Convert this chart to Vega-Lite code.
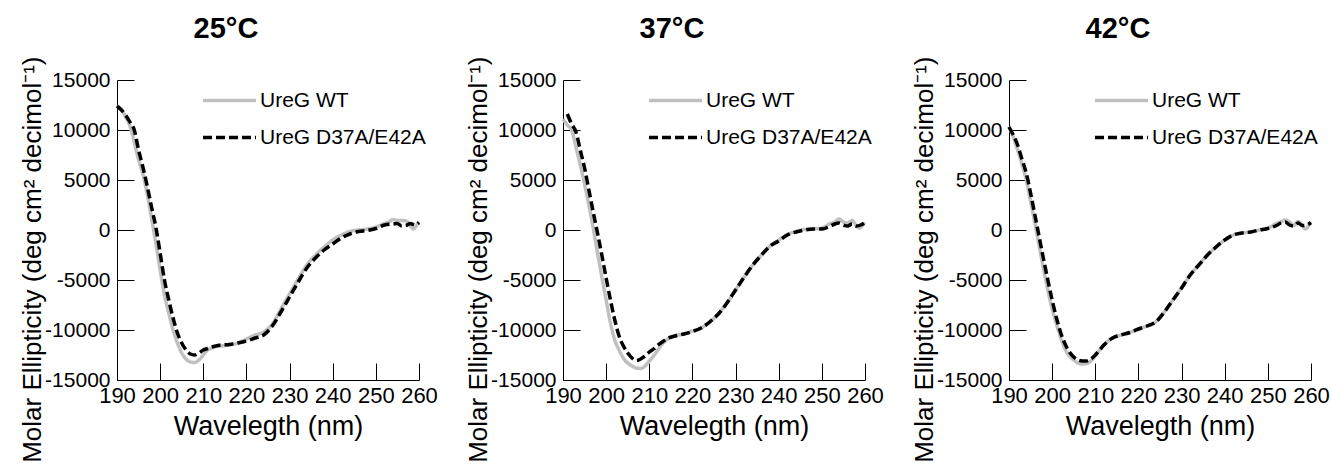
{
"$schema": "https://vega.github.io/schema/vega-lite/v6.json",
"background": "white",
"padding": {"left": 19, "top": 15, "right": 0, "bottom": 0},
"config": {
  "view": {"stroke": null},
  "title": {"fontSize": 29, "fontWeight": "bold", "font": "Liberation Sans", "color": "#000", "offset": 12, "dx": -42},
  "axis": {"ticks": false, "domain": true, "domainColor": "#000", "domainWidth": 1, "grid": true, "gridColor": "#000", "gridWidth": 1, "gridOpacity": 1, "labelColor": "#000", "titleColor": "#000", "labelFont": "Liberation Sans", "titleFont": "Liberation Sans", "titleFontWeight": "normal"},
  "axisX": {"labelFontSize": 22, "labelPadding": 5, "titleFontSize": 27, "titlePadding": 7, "labelFlush": false, "gridDash": [17, 283], "gridDashOffset": 17},
  "axisY": {"labelFontSize": 21, "labelPadding": 7, "titleFontSize": 26, "titleX": -77, "titleY": -24, "titleAlign": "right", "titleBaseline": "alphabetic", "titleAngle": 270, "gridDash": [17, 285], "gridDashOffset": 0},
  "legend": {"orient": "none", "legendX": 100, "legendY": 8, "symbolType": "M-2.5,0H2.5", "symbolSize": 449, "symbolStrokeWidth": 3.5, "labelFont": "Liberation Sans", "labelFontSize": 21, "labelColor": "#000", "labelOffset": 18, "rowPadding": 14, "labelLimit": 400}
},
"data": {"values": [
{"p":"25°C","s":"UreG WT","wl":190,"v":12400},{"p":"25°C","s":"UreG WT","wl":191,"v":12100},{"p":"25°C","s":"UreG WT","wl":192,"v":11300},{"p":"25°C","s":"UreG WT","wl":193,"v":10400},{"p":"25°C","s":"UreG WT","wl":194,"v":8800},{"p":"25°C","s":"UreG WT","wl":195,"v":7000},{"p":"25°C","s":"UreG WT","wl":196,"v":5600},{"p":"25°C","s":"UreG WT","wl":197,"v":3600},{"p":"25°C","s":"UreG WT","wl":198,"v":1200},{"p":"25°C","s":"UreG WT","wl":199,"v":-1300},{"p":"25°C","s":"UreG WT","wl":200,"v":-4000},{"p":"25°C","s":"UreG WT","wl":201,"v":-6500},{"p":"25°C","s":"UreG WT","wl":202,"v":-8300},{"p":"25°C","s":"UreG WT","wl":203,"v":-10000},{"p":"25°C","s":"UreG WT","wl":204,"v":-11300},{"p":"25°C","s":"UreG WT","wl":205,"v":-12300},{"p":"25°C","s":"UreG WT","wl":206,"v":-12900},{"p":"25°C","s":"UreG WT","wl":207,"v":-13200},{"p":"25°C","s":"UreG WT","wl":208,"v":-13250},{"p":"25°C","s":"UreG WT","wl":209,"v":-13000},{"p":"25°C","s":"UreG WT","wl":210,"v":-12500},{"p":"25°C","s":"UreG WT","wl":211,"v":-12000},{"p":"25°C","s":"UreG WT","wl":212,"v":-11800},{"p":"25°C","s":"UreG WT","wl":213,"v":-11650},{"p":"25°C","s":"UreG WT","wl":214,"v":-11600},{"p":"25°C","s":"UreG WT","wl":216,"v":-11500},{"p":"25°C","s":"UreG WT","wl":218,"v":-11300},{"p":"25°C","s":"UreG WT","wl":220,"v":-10900},{"p":"25°C","s":"UreG WT","wl":222,"v":-10500},{"p":"25°C","s":"UreG WT","wl":224,"v":-10200},{"p":"25°C","s":"UreG WT","wl":226,"v":-9400},{"p":"25°C","s":"UreG WT","wl":228,"v":-7900},{"p":"25°C","s":"UreG WT","wl":230,"v":-6400},{"p":"25°C","s":"UreG WT","wl":232,"v":-4900},{"p":"25°C","s":"UreG WT","wl":234,"v":-3500},{"p":"25°C","s":"UreG WT","wl":236,"v":-2500},{"p":"25°C","s":"UreG WT","wl":238,"v":-1700},{"p":"25°C","s":"UreG WT","wl":240,"v":-1000},{"p":"25°C","s":"UreG WT","wl":242,"v":-500},{"p":"25°C","s":"UreG WT","wl":244,"v":-150},{"p":"25°C","s":"UreG WT","wl":246,"v":0},{"p":"25°C","s":"UreG WT","wl":248,"v":100},{"p":"25°C","s":"UreG WT","wl":250,"v":300},{"p":"25°C","s":"UreG WT","wl":252,"v":650},{"p":"25°C","s":"UreG WT","wl":253,"v":800},{"p":"25°C","s":"UreG WT","wl":254,"v":1050},{"p":"25°C","s":"UreG WT","wl":255,"v":950},{"p":"25°C","s":"UreG WT","wl":256,"v":950},{"p":"25°C","s":"UreG WT","wl":257,"v":900},{"p":"25°C","s":"UreG WT","wl":258,"v":400},{"p":"25°C","s":"UreG WT","wl":258.7,"v":100},{"p":"25°C","s":"UreG WT","wl":259.5,"v":500},{"p":"25°C","s":"UreG WT","wl":260,"v":750},
{"p":"25°C","s":"UreG D37A/E42A","wl":190,"v":12400},{"p":"25°C","s":"UreG D37A/E42A","wl":191,"v":12000},{"p":"25°C","s":"UreG D37A/E42A","wl":192,"v":11500},{"p":"25°C","s":"UreG D37A/E42A","wl":193,"v":10800},{"p":"25°C","s":"UreG D37A/E42A","wl":194,"v":10000},{"p":"25°C","s":"UreG D37A/E42A","wl":195,"v":8000},{"p":"25°C","s":"UreG D37A/E42A","wl":196,"v":6300},{"p":"25°C","s":"UreG D37A/E42A","wl":197,"v":4400},{"p":"25°C","s":"UreG D37A/E42A","wl":198,"v":2300},{"p":"25°C","s":"UreG D37A/E42A","wl":199,"v":300},{"p":"25°C","s":"UreG D37A/E42A","wl":200,"v":-2300},{"p":"25°C","s":"UreG D37A/E42A","wl":201,"v":-5000},{"p":"25°C","s":"UreG D37A/E42A","wl":202,"v":-7000},{"p":"25°C","s":"UreG D37A/E42A","wl":203,"v":-8800},{"p":"25°C","s":"UreG D37A/E42A","wl":204,"v":-10300},{"p":"25°C","s":"UreG D37A/E42A","wl":205,"v":-11300},{"p":"25°C","s":"UreG D37A/E42A","wl":206,"v":-12000},{"p":"25°C","s":"UreG D37A/E42A","wl":207,"v":-12400},{"p":"25°C","s":"UreG D37A/E42A","wl":208,"v":-12500},{"p":"25°C","s":"UreG D37A/E42A","wl":209,"v":-12300},{"p":"25°C","s":"UreG D37A/E42A","wl":210,"v":-12000},{"p":"25°C","s":"UreG D37A/E42A","wl":211,"v":-11850},{"p":"25°C","s":"UreG D37A/E42A","wl":212,"v":-11700},{"p":"25°C","s":"UreG D37A/E42A","wl":214,"v":-11500},{"p":"25°C","s":"UreG D37A/E42A","wl":216,"v":-11450},{"p":"25°C","s":"UreG D37A/E42A","wl":218,"v":-11300},{"p":"25°C","s":"UreG D37A/E42A","wl":220,"v":-11100},{"p":"25°C","s":"UreG D37A/E42A","wl":222,"v":-10800},{"p":"25°C","s":"UreG D37A/E42A","wl":224,"v":-10500},{"p":"25°C","s":"UreG D37A/E42A","wl":226,"v":-9600},{"p":"25°C","s":"UreG D37A/E42A","wl":228,"v":-8200},{"p":"25°C","s":"UreG D37A/E42A","wl":230,"v":-6700},{"p":"25°C","s":"UreG D37A/E42A","wl":232,"v":-5200},{"p":"25°C","s":"UreG D37A/E42A","wl":234,"v":-3800},{"p":"25°C","s":"UreG D37A/E42A","wl":236,"v":-2800},{"p":"25°C","s":"UreG D37A/E42A","wl":238,"v":-2000},{"p":"25°C","s":"UreG D37A/E42A","wl":240,"v":-1400},{"p":"25°C","s":"UreG D37A/E42A","wl":242,"v":-800},{"p":"25°C","s":"UreG D37A/E42A","wl":244,"v":-400},{"p":"25°C","s":"UreG D37A/E42A","wl":246,"v":-150},{"p":"25°C","s":"UreG D37A/E42A","wl":248,"v":-50},{"p":"25°C","s":"UreG D37A/E42A","wl":250,"v":150},{"p":"25°C","s":"UreG D37A/E42A","wl":252,"v":500},{"p":"25°C","s":"UreG D37A/E42A","wl":254,"v":600},{"p":"25°C","s":"UreG D37A/E42A","wl":255,"v":650},{"p":"25°C","s":"UreG D37A/E42A","wl":256,"v":400},{"p":"25°C","s":"UreG D37A/E42A","wl":257,"v":450},{"p":"25°C","s":"UreG D37A/E42A","wl":258,"v":650},{"p":"25°C","s":"UreG D37A/E42A","wl":259,"v":500},{"p":"25°C","s":"UreG D37A/E42A","wl":260,"v":760},
{"p":"37°C","s":"UreG WT","wl":190,"v":11100},{"p":"37°C","s":"UreG WT","wl":191,"v":10500},{"p":"37°C","s":"UreG WT","wl":192,"v":10000},{"p":"37°C","s":"UreG WT","wl":193,"v":8300},{"p":"37°C","s":"UreG WT","wl":194,"v":6500},{"p":"37°C","s":"UreG WT","wl":195,"v":4600},{"p":"37°C","s":"UreG WT","wl":196,"v":2500},{"p":"37°C","s":"UreG WT","wl":197,"v":200},{"p":"37°C","s":"UreG WT","wl":198,"v":-2300},{"p":"37°C","s":"UreG WT","wl":199,"v":-4700},{"p":"37°C","s":"UreG WT","wl":200,"v":-7000},{"p":"37°C","s":"UreG WT","wl":201,"v":-9300},{"p":"37°C","s":"UreG WT","wl":202,"v":-11000},{"p":"37°C","s":"UreG WT","wl":203,"v":-12000},{"p":"37°C","s":"UreG WT","wl":204,"v":-12800},{"p":"37°C","s":"UreG WT","wl":205,"v":-13300},{"p":"37°C","s":"UreG WT","wl":206,"v":-13600},{"p":"37°C","s":"UreG WT","wl":207,"v":-13800},{"p":"37°C","s":"UreG WT","wl":208,"v":-13850},{"p":"37°C","s":"UreG WT","wl":209,"v":-13600},{"p":"37°C","s":"UreG WT","wl":210,"v":-13100},{"p":"37°C","s":"UreG WT","wl":211,"v":-12600},{"p":"37°C","s":"UreG WT","wl":212,"v":-12000},{"p":"37°C","s":"UreG WT","wl":213,"v":-11400},{"p":"37°C","s":"UreG WT","wl":214,"v":-11000},{"p":"37°C","s":"UreG WT","wl":215,"v":-10700},{"p":"37°C","s":"UreG WT","wl":216,"v":-10550},{"p":"37°C","s":"UreG WT","wl":218,"v":-10400},{"p":"37°C","s":"UreG WT","wl":220,"v":-10100},{"p":"37°C","s":"UreG WT","wl":222,"v":-9800},{"p":"37°C","s":"UreG WT","wl":224,"v":-9200},{"p":"37°C","s":"UreG WT","wl":226,"v":-8400},{"p":"37°C","s":"UreG WT","wl":228,"v":-7300},{"p":"37°C","s":"UreG WT","wl":230,"v":-6000},{"p":"37°C","s":"UreG WT","wl":232,"v":-4700},{"p":"37°C","s":"UreG WT","wl":234,"v":-3500},{"p":"37°C","s":"UreG WT","wl":236,"v":-2500},{"p":"37°C","s":"UreG WT","wl":238,"v":-1600},{"p":"37°C","s":"UreG WT","wl":240,"v":-1000},{"p":"37°C","s":"UreG WT","wl":242,"v":-450},{"p":"37°C","s":"UreG WT","wl":244,"v":-150},{"p":"37°C","s":"UreG WT","wl":246,"v":50},{"p":"37°C","s":"UreG WT","wl":248,"v":100},{"p":"37°C","s":"UreG WT","wl":250,"v":200},{"p":"37°C","s":"UreG WT","wl":252,"v":650},{"p":"37°C","s":"UreG WT","wl":253,"v":800},{"p":"37°C","s":"UreG WT","wl":254,"v":1100},{"p":"37°C","s":"UreG WT","wl":255,"v":800},{"p":"37°C","s":"UreG WT","wl":256,"v":700},{"p":"37°C","s":"UreG WT","wl":257,"v":950},{"p":"37°C","s":"UreG WT","wl":258,"v":400},{"p":"37°C","s":"UreG WT","wl":258.7,"v":200},{"p":"37°C","s":"UreG WT","wl":259.5,"v":500},{"p":"37°C","s":"UreG WT","wl":260,"v":750},
{"p":"37°C","s":"UreG D37A/E42A","wl":191,"v":11600},{"p":"37°C","s":"UreG D37A/E42A","wl":192,"v":10600},{"p":"37°C","s":"UreG D37A/E42A","wl":193,"v":9800},{"p":"37°C","s":"UreG D37A/E42A","wl":194,"v":8000},{"p":"37°C","s":"UreG D37A/E42A","wl":195,"v":6200},{"p":"37°C","s":"UreG D37A/E42A","wl":196,"v":4000},{"p":"37°C","s":"UreG D37A/E42A","wl":197,"v":1800},{"p":"37°C","s":"UreG D37A/E42A","wl":198,"v":-300},{"p":"37°C","s":"UreG D37A/E42A","wl":199,"v":-2500},{"p":"37°C","s":"UreG D37A/E42A","wl":200,"v":-4800},{"p":"37°C","s":"UreG D37A/E42A","wl":201,"v":-7000},{"p":"37°C","s":"UreG D37A/E42A","wl":202,"v":-9000},{"p":"37°C","s":"UreG D37A/E42A","wl":203,"v":-10600},{"p":"37°C","s":"UreG D37A/E42A","wl":204,"v":-11600},{"p":"37°C","s":"UreG D37A/E42A","wl":205,"v":-12300},{"p":"37°C","s":"UreG D37A/E42A","wl":206,"v":-12800},{"p":"37°C","s":"UreG D37A/E42A","wl":207,"v":-13050},{"p":"37°C","s":"UreG D37A/E42A","wl":208,"v":-12900},{"p":"37°C","s":"UreG D37A/E42A","wl":209,"v":-12600},{"p":"37°C","s":"UreG D37A/E42A","wl":210,"v":-12200},{"p":"37°C","s":"UreG D37A/E42A","wl":211,"v":-11900},{"p":"37°C","s":"UreG D37A/E42A","wl":212,"v":-11500},{"p":"37°C","s":"UreG D37A/E42A","wl":213,"v":-11200},{"p":"37°C","s":"UreG D37A/E42A","wl":214,"v":-10900},{"p":"37°C","s":"UreG D37A/E42A","wl":216,"v":-10600},{"p":"37°C","s":"UreG D37A/E42A","wl":218,"v":-10400},{"p":"37°C","s":"UreG D37A/E42A","wl":220,"v":-10150},{"p":"37°C","s":"UreG D37A/E42A","wl":222,"v":-9800},{"p":"37°C","s":"UreG D37A/E42A","wl":224,"v":-9200},{"p":"37°C","s":"UreG D37A/E42A","wl":226,"v":-8400},{"p":"37°C","s":"UreG D37A/E42A","wl":228,"v":-7300},{"p":"37°C","s":"UreG D37A/E42A","wl":230,"v":-6000},{"p":"37°C","s":"UreG D37A/E42A","wl":232,"v":-4700},{"p":"37°C","s":"UreG D37A/E42A","wl":234,"v":-3500},{"p":"37°C","s":"UreG D37A/E42A","wl":236,"v":-2500},{"p":"37°C","s":"UreG D37A/E42A","wl":238,"v":-1600},{"p":"37°C","s":"UreG D37A/E42A","wl":240,"v":-1100},{"p":"37°C","s":"UreG D37A/E42A","wl":242,"v":-500},{"p":"37°C","s":"UreG D37A/E42A","wl":244,"v":-200},{"p":"37°C","s":"UreG D37A/E42A","wl":246,"v":0},{"p":"37°C","s":"UreG D37A/E42A","wl":248,"v":100},{"p":"37°C","s":"UreG D37A/E42A","wl":250,"v":100},{"p":"37°C","s":"UreG D37A/E42A","wl":252,"v":400},{"p":"37°C","s":"UreG D37A/E42A","wl":253,"v":600},{"p":"37°C","s":"UreG D37A/E42A","wl":254,"v":700},{"p":"37°C","s":"UreG D37A/E42A","wl":255,"v":500},{"p":"37°C","s":"UreG D37A/E42A","wl":256,"v":400},{"p":"37°C","s":"UreG D37A/E42A","wl":257,"v":600},{"p":"37°C","s":"UreG D37A/E42A","wl":258,"v":400},{"p":"37°C","s":"UreG D37A/E42A","wl":259,"v":500},{"p":"37°C","s":"UreG D37A/E42A","wl":260,"v":750},
{"p":"42°C","s":"UreG WT","wl":190,"v":10300},{"p":"42°C","s":"UreG WT","wl":191,"v":9300},{"p":"42°C","s":"UreG WT","wl":192,"v":8000},{"p":"42°C","s":"UreG WT","wl":193,"v":6600},{"p":"42°C","s":"UreG WT","wl":194,"v":5000},{"p":"42°C","s":"UreG WT","wl":195,"v":2900},{"p":"42°C","s":"UreG WT","wl":196,"v":700},{"p":"42°C","s":"UreG WT","wl":197,"v":-1600},{"p":"42°C","s":"UreG WT","wl":198,"v":-3900},{"p":"42°C","s":"UreG WT","wl":199,"v":-6000},{"p":"42°C","s":"UreG WT","wl":200,"v":-7900},{"p":"42°C","s":"UreG WT","wl":201,"v":-9400},{"p":"42°C","s":"UreG WT","wl":202,"v":-10800},{"p":"42°C","s":"UreG WT","wl":203,"v":-11900},{"p":"42°C","s":"UreG WT","wl":204,"v":-12600},{"p":"42°C","s":"UreG WT","wl":205,"v":-13000},{"p":"42°C","s":"UreG WT","wl":206,"v":-13300},{"p":"42°C","s":"UreG WT","wl":207,"v":-13400},{"p":"42°C","s":"UreG WT","wl":208,"v":-13350},{"p":"42°C","s":"UreG WT","wl":209,"v":-13100},{"p":"42°C","s":"UreG WT","wl":210,"v":-12600},{"p":"42°C","s":"UreG WT","wl":211,"v":-12000},{"p":"42°C","s":"UreG WT","wl":212,"v":-11500},{"p":"42°C","s":"UreG WT","wl":213,"v":-11100},{"p":"42°C","s":"UreG WT","wl":214,"v":-10800},{"p":"42°C","s":"UreG WT","wl":216,"v":-10500},{"p":"42°C","s":"UreG WT","wl":218,"v":-10250},{"p":"42°C","s":"UreG WT","wl":220,"v":-9900},{"p":"42°C","s":"UreG WT","wl":222,"v":-9600},{"p":"42°C","s":"UreG WT","wl":224,"v":-9200},{"p":"42°C","s":"UreG WT","wl":226,"v":-8200},{"p":"42°C","s":"UreG WT","wl":228,"v":-7000},{"p":"42°C","s":"UreG WT","wl":230,"v":-5800},{"p":"42°C","s":"UreG WT","wl":232,"v":-4500},{"p":"42°C","s":"UreG WT","wl":234,"v":-3500},{"p":"42°C","s":"UreG WT","wl":236,"v":-2500},{"p":"42°C","s":"UreG WT","wl":238,"v":-1700},{"p":"42°C","s":"UreG WT","wl":240,"v":-1000},{"p":"42°C","s":"UreG WT","wl":242,"v":-500},{"p":"42°C","s":"UreG WT","wl":244,"v":-300},{"p":"42°C","s":"UreG WT","wl":246,"v":-200},{"p":"42°C","s":"UreG WT","wl":248,"v":0},{"p":"42°C","s":"UreG WT","wl":250,"v":200},{"p":"42°C","s":"UreG WT","wl":252,"v":650},{"p":"42°C","s":"UreG WT","wl":253,"v":800},{"p":"42°C","s":"UreG WT","wl":254,"v":1000},{"p":"42°C","s":"UreG WT","wl":255,"v":800},{"p":"42°C","s":"UreG WT","wl":256,"v":450},{"p":"42°C","s":"UreG WT","wl":257,"v":850},{"p":"42°C","s":"UreG WT","wl":258,"v":400},{"p":"42°C","s":"UreG WT","wl":258.7,"v":100},{"p":"42°C","s":"UreG WT","wl":259.5,"v":450},{"p":"42°C","s":"UreG WT","wl":260,"v":750},
{"p":"42°C","s":"UreG D37A/E42A","wl":190,"v":10300},{"p":"42°C","s":"UreG D37A/E42A","wl":191,"v":9500},{"p":"42°C","s":"UreG D37A/E42A","wl":192,"v":8500},{"p":"42°C","s":"UreG D37A/E42A","wl":193,"v":7100},{"p":"42°C","s":"UreG D37A/E42A","wl":194,"v":5700},{"p":"42°C","s":"UreG D37A/E42A","wl":195,"v":3700},{"p":"42°C","s":"UreG D37A/E42A","wl":196,"v":1500},{"p":"42°C","s":"UreG D37A/E42A","wl":197,"v":-700},{"p":"42°C","s":"UreG D37A/E42A","wl":198,"v":-2900},{"p":"42°C","s":"UreG D37A/E42A","wl":199,"v":-5000},{"p":"42°C","s":"UreG D37A/E42A","wl":200,"v":-7000},{"p":"42°C","s":"UreG D37A/E42A","wl":201,"v":-8800},{"p":"42°C","s":"UreG D37A/E42A","wl":202,"v":-10300},{"p":"42°C","s":"UreG D37A/E42A","wl":203,"v":-11400},{"p":"42°C","s":"UreG D37A/E42A","wl":204,"v":-12200},{"p":"42°C","s":"UreG D37A/E42A","wl":205,"v":-12700},{"p":"42°C","s":"UreG D37A/E42A","wl":206,"v":-13000},{"p":"42°C","s":"UreG D37A/E42A","wl":207,"v":-13100},{"p":"42°C","s":"UreG D37A/E42A","wl":208,"v":-13100},{"p":"42°C","s":"UreG D37A/E42A","wl":209,"v":-12900},{"p":"42°C","s":"UreG D37A/E42A","wl":210,"v":-12500},{"p":"42°C","s":"UreG D37A/E42A","wl":211,"v":-12000},{"p":"42°C","s":"UreG D37A/E42A","wl":212,"v":-11500},{"p":"42°C","s":"UreG D37A/E42A","wl":213,"v":-11100},{"p":"42°C","s":"UreG D37A/E42A","wl":214,"v":-10800},{"p":"42°C","s":"UreG D37A/E42A","wl":216,"v":-10500},{"p":"42°C","s":"UreG D37A/E42A","wl":218,"v":-10250},{"p":"42°C","s":"UreG D37A/E42A","wl":220,"v":-9900},{"p":"42°C","s":"UreG D37A/E42A","wl":222,"v":-9600},{"p":"42°C","s":"UreG D37A/E42A","wl":224,"v":-9200},{"p":"42°C","s":"UreG D37A/E42A","wl":226,"v":-8200},{"p":"42°C","s":"UreG D37A/E42A","wl":228,"v":-7000},{"p":"42°C","s":"UreG D37A/E42A","wl":230,"v":-5800},{"p":"42°C","s":"UreG D37A/E42A","wl":232,"v":-4500},{"p":"42°C","s":"UreG D37A/E42A","wl":234,"v":-3500},{"p":"42°C","s":"UreG D37A/E42A","wl":236,"v":-2500},{"p":"42°C","s":"UreG D37A/E42A","wl":238,"v":-1700},{"p":"42°C","s":"UreG D37A/E42A","wl":240,"v":-1000},{"p":"42°C","s":"UreG D37A/E42A","wl":242,"v":-500},{"p":"42°C","s":"UreG D37A/E42A","wl":244,"v":-300},{"p":"42°C","s":"UreG D37A/E42A","wl":246,"v":-200},{"p":"42°C","s":"UreG D37A/E42A","wl":248,"v":0},{"p":"42°C","s":"UreG D37A/E42A","wl":250,"v":150},{"p":"42°C","s":"UreG D37A/E42A","wl":252,"v":450},{"p":"42°C","s":"UreG D37A/E42A","wl":253,"v":700},{"p":"42°C","s":"UreG D37A/E42A","wl":254,"v":800},{"p":"42°C","s":"UreG D37A/E42A","wl":255,"v":500},{"p":"42°C","s":"UreG D37A/E42A","wl":256,"v":400},{"p":"42°C","s":"UreG D37A/E42A","wl":257,"v":700},{"p":"42°C","s":"UreG D37A/E42A","wl":258,"v":450},{"p":"42°C","s":"UreG D37A/E42A","wl":259,"v":500},{"p":"42°C","s":"UreG D37A/E42A","wl":260,"v":750}
]},
"spacing": 144,
"bounds": "flush",
"resolve": {"scale": {"color": "independent", "strokeDash": "independent"}, "legend": {"color": "independent", "strokeDash": "independent"}},
"hconcat": [
{"width": 302, "height": 300, "title": "25°C",
 "transform": [{"filter": "datum.p === '25°C'"}],
 "encoding": {
  "x": {"field": "wl", "type": "quantitative", "scale": {"domain": [190, 260], "nice": false, "zero": false}, "axis": {"values": [190,200,210,220,230,240,250,260], "title": "Wavelegth (nm)"}},
  "y": {"field": "v", "type": "quantitative", "scale": {"domain": [-15000, 15000], "nice": false}, "axis": {"values": [-15000,-10000,-5000,0,5000,10000,15000], "labelExpr": "'' + datum.value", "title": "Molar Ellipticity (deg cm² decimol⁻¹)"}},
  "color": {"field": "s", "type": "nominal", "scale": {"domain": ["UreG WT", "UreG D37A/E42A"], "range": ["#c0c0c0", "#000000"]}, "legend": {"title": null}},
  "strokeDash": {"field": "s", "type": "nominal", "scale": {"domain": ["UreG WT", "UreG D37A/E42A"], "range": [[1, 0], [9, 4]]}, "legend": {"title": null}}
 },
 "layer": [
  {"transform": [{"filter": "datum.s === 'UreG WT'"}], "mark": {"type": "line", "strokeWidth": 3.5, "interpolate": "monotone"}},
  {"transform": [{"filter": "datum.s === 'UreG D37A/E42A'"}], "mark": {"type": "line", "strokeWidth": 3.5, "interpolate": "monotone"}}
 ]},
{"width": 302, "height": 300, "title": "37°C",
 "transform": [{"filter": "datum.p === '37°C'"}],
 "encoding": {
  "x": {"field": "wl", "type": "quantitative", "scale": {"domain": [190, 260], "nice": false, "zero": false}, "axis": {"values": [190,200,210,220,230,240,250,260], "title": "Wavelegth (nm)"}},
  "y": {"field": "v", "type": "quantitative", "scale": {"domain": [-15000, 15000], "nice": false}, "axis": {"values": [-15000,-10000,-5000,0,5000,10000,15000], "labelExpr": "'' + datum.value", "title": "Molar Ellipticity (deg cm² decimol⁻¹)"}},
  "color": {"field": "s", "type": "nominal", "scale": {"domain": ["UreG WT", "UreG D37A/E42A"], "range": ["#c0c0c0", "#000000"]}, "legend": {"title": null}},
  "strokeDash": {"field": "s", "type": "nominal", "scale": {"domain": ["UreG WT", "UreG D37A/E42A"], "range": [[1, 0], [9, 4]]}, "legend": {"title": null}}
 },
 "layer": [
  {"transform": [{"filter": "datum.s === 'UreG WT'"}], "mark": {"type": "line", "strokeWidth": 3.5, "interpolate": "monotone"}},
  {"transform": [{"filter": "datum.s === 'UreG D37A/E42A'"}], "mark": {"type": "line", "strokeWidth": 3.5, "interpolate": "monotone"}}
 ]},
{"width": 302, "height": 300, "title": "42°C",
 "transform": [{"filter": "datum.p === '42°C'"}],
 "encoding": {
  "x": {"field": "wl", "type": "quantitative", "scale": {"domain": [190, 260], "nice": false, "zero": false}, "axis": {"values": [190,200,210,220,230,240,250,260], "title": "Wavelegth (nm)"}},
  "y": {"field": "v", "type": "quantitative", "scale": {"domain": [-15000, 15000], "nice": false}, "axis": {"values": [-15000,-10000,-5000,0,5000,10000,15000], "labelExpr": "'' + datum.value", "title": "Molar Ellipticity (deg cm² decimol⁻¹)"}},
  "color": {"field": "s", "type": "nominal", "scale": {"domain": ["UreG WT", "UreG D37A/E42A"], "range": ["#c0c0c0", "#000000"]}, "legend": {"title": null}},
  "strokeDash": {"field": "s", "type": "nominal", "scale": {"domain": ["UreG WT", "UreG D37A/E42A"], "range": [[1, 0], [9, 4]]}, "legend": {"title": null}}
 },
 "layer": [
  {"transform": [{"filter": "datum.s === 'UreG WT'"}], "mark": {"type": "line", "strokeWidth": 3.5, "interpolate": "monotone"}},
  {"transform": [{"filter": "datum.s === 'UreG D37A/E42A'"}], "mark": {"type": "line", "strokeWidth": 3.5, "interpolate": "monotone"}}
 ]}
]
}
